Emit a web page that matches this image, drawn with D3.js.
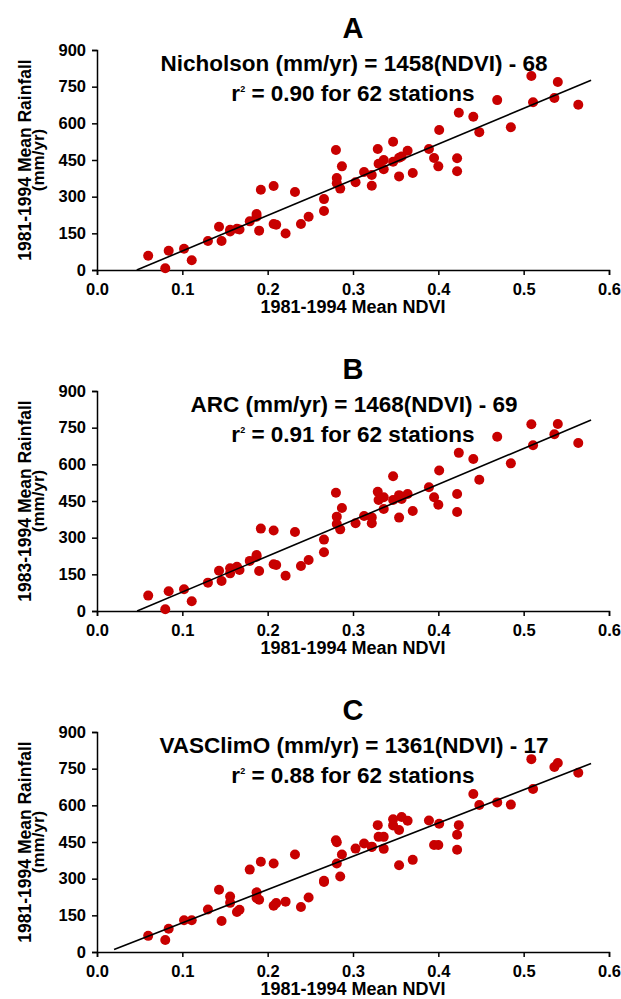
<!DOCTYPE html>
<html>
<head>
<meta charset="utf-8">
<script src="https://cdn.jsdelivr.net/npm/d3@7"></script>
<style>
  body { margin: 0; background: #fff; }
  svg text { font-family: "Liberation Sans", Arial, Helvetica, sans-serif; font-weight: bold; fill: #000; }
</style>
</head>
<body>
<div id="chart"></div>
<script>
// station NDVI (same 62 stations in every panel)
var ndvi = [0.060, 0.080, 0.084, 0.102, 0.111, 0.130, 0.146, 0.143, 0.156, 0.156,
    0.164, 0.167, 0.179, 0.187, 0.187, 0.190, 0.192, 0.207, 0.207, 0.210,
    0.221, 0.232, 0.239, 0.248, 0.266, 0.266, 0.280, 0.281, 0.281, 0.285,
    0.287, 0.303, 0.313, 0.322, 0.322, 0.329, 0.330, 0.336, 0.336, 0.347,
    0.347, 0.354, 0.354, 0.357, 0.364, 0.370, 0.389, 0.395, 0.400, 0.401,
    0.422, 0.422, 0.424, 0.441, 0.448, 0.469, 0.485, 0.509, 0.511, 0.536,
    0.540, 0.564];

var rainNicholson = [58, 7, 79, 87, 40, 119, 119, 177, 158, 165,
    169, 166, 199, 229, 218, 161, 328, 344, 188, 185,
    149, 319, 188, 218, 241, 290, 491, 376, 355, 333,
    424, 359, 401, 389, 345, 495, 435, 450, 412, 525,
    443, 383, 459, 464, 488, 397, 495, 458, 424, 573,
    457, 404, 643, 627, 564, 695, 584, 794, 686, 704,
    769, 676];

var rainARC = [63, 7, 81, 89, 40, 116, 123, 165, 154, 175,
    181, 168, 205, 229, 222, 164, 337, 329, 191, 188,
    144, 323, 184, 209, 240, 292, 484, 386, 356, 334,
    421, 359, 389, 383, 359, 488, 454, 465, 417, 551,
    454, 382, 474, 458, 479, 409, 506, 465, 435, 575,
    479, 405, 647, 622, 537, 713, 604, 764, 678, 723,
    765, 687];

var rainVASClimO = [66, 49, 95, 130, 130, 174, 127, 255, 227, 201,
    164, 173, 337, 244, 221, 214, 369, 362, 189, 200,
    206, 399, 184, 223, 291, 286, 457, 449, 362, 309,
    399, 423, 444, 431, 430, 519, 471, 471, 422, 543,
    518, 355, 499, 552, 537, 377, 538, 438, 438, 525,
    480, 418, 519, 646, 601, 612, 603, 789, 667, 757,
    773, 733];

var panelLetters = ["A", "B", "C"];
var sources = ["Nicholson", "ARC", "VASClimO"];
var slopes = [1458, 1468, 1361];
var intercepts = [-68, -69, -17];
var r2 = ["0.90", "0.91", "0.88"];
var yTitles = ["1981-1994 Mean Rainfall", "1983-1994 Mean Rainfall", "1981-1994 Mean Rainfall"];
var fitFrom = [0.0466, 0.047, 0.02];
var fitTo = 0.579;
var xTicks = [0, 0.1, 0.2, 0.3, 0.4, 0.5, 0.6];
var yTicks = [0, 150, 300, 450, 600, 750, 900];
var rainSets = [rainNicholson, rainARC, rainVASClimO];

var W = 621, H = 999;
var left = 97, right = 609, plotH = 220;
var tops = [50, 391, 732];
var red = "#c80000";

var svg = d3.select("#chart").append("svg")
    .attr("width", W)
    .attr("height", H);

var x = d3.scaleLinear().domain([0, 0.6]).range([left, right]);

panelLetters.forEach(function(letter, i) {
    var top = tops[i];
    var y = d3.scaleLinear().domain([0, 900]).range([top + plotH, top]);
    var g = svg.append("g");

    // panel letter and equation text
    g.append("text")
        .attr("x", 353).attr("y", top - 12)
        .attr("text-anchor", "middle")
        .style("font-size", "29px")
        .text(letter);

    g.append("text")
        .attr("x", 354).attr("y", top + 21)
        .attr("text-anchor", "middle")
        .style("font-size", "22.5px")
        .text(sources[i] + " (mm/yr) = " + slopes[i] + "(NDVI) - " + (-intercepts[i]));

    var r = g.append("text")
        .attr("x", 353).attr("y", top + 51)
        .attr("text-anchor", "middle")
        .style("font-size", "22.5px");
    r.append("tspan").text("r");
    r.append("tspan").attr("dy", -9).style("font-size", "9px").text("2");
    r.append("tspan").attr("dy", 9).text(" = " + r2[i] + " for 62 stations");

    // axes
    var yAxis = g.append("g")
        .attr("transform", "translate(" + left + ",0)")
        .call(d3.axisLeft(y).tickValues(yTicks).tickSize(5).tickPadding(6));
    var xAxis = g.append("g")
        .attr("transform", "translate(0," + (top + plotH) + ")")
        .call(d3.axisBottom(x).tickValues(xTicks).tickSize(5).tickPadding(8)
            .tickFormat(d3.format(".1f")));

    [yAxis, xAxis].forEach(function(a) {
        a.selectAll("path, line").attr("stroke", "#000").attr("stroke-width", 1.5);
        a.selectAll("text")
            .style("font-family", "'Liberation Sans', Arial, sans-serif")
            .style("font-weight", "bold")
            .style("font-size", "16.5px")
            .attr("fill", "#000");
    });

    // axis titles
    g.append("text")
        .attr("x", (left + right) / 2).attr("y", top + plotH + 43)
        .attr("text-anchor", "middle")
        .style("font-size", "18px")
        .text("1981-1994 Mean NDVI");

    var cy = top + plotH / 2;
    g.append("text")
        .attr("transform", "translate(31," + cy + ") rotate(-90)")
        .attr("text-anchor", "middle")
        .style("font-size", "17.5px")
        .text(yTitles[i]);
    g.append("text")
        .attr("transform", "translate(44," + cy + ") rotate(-90)")
        .attr("text-anchor", "middle")
        .style("font-size", "17px")
        .text("(mm/yr)");

    // points
    var rain = rainSets[i];
    g.selectAll("circle")
        .data(ndvi)
        .enter().append("circle")
        .attr("cx", function(d) { return x(d); })
        .attr("cy", function(d, j) { return y(rain[j]); })
        .attr("r", 5)
        .attr("fill", red);

    // fitted line
    var fit = [fitFrom[i], fitTo];
    g.append("path")
        .datum(fit)
        .attr("fill", "none")
        .attr("stroke", "#000")
        .attr("stroke-width", 1.6)
        .attr("d", d3.line()
            .x(function(d) { return x(d); })
            .y(function(d) { return y(slopes[i] * d + intercepts[i]); }));
});
</script>
</body>
</html>
